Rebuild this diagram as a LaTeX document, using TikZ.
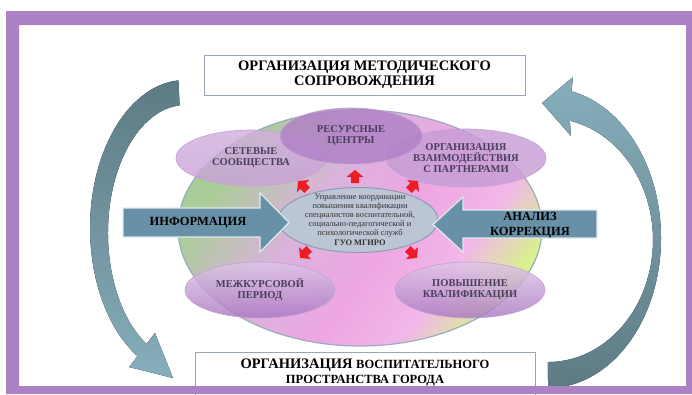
\documentclass[tikz,border=0pt]{standalone}
\usepackage{fontspec}
\setmainfont{Liberation Serif}
\usetikzlibrary{positioning,shapes.geometric}
\definecolor{mgiFrame}{HTML}{AC82C4}
\definecolor{mgiSlateDark}{HTML}{5D7B84}
\definecolor{mgiSlateLight}{HTML}{86AEBC}
\definecolor{mgiSteel}{HTML}{6891A8}
\definecolor{mgiLilac}{HTML}{C9A2D8}
\definecolor{mgiLilacDeep}{HTML}{AA78C2}
\definecolor{mgiInk}{HTML}{4A3E5E}
\definecolor{mgiCore}{HTML}{BCC5D4}
\definecolor{mgiCoreEdge}{HTML}{8A9BB3}
\definecolor{mgiDiscGreen}{HTML}{A9CD96}
\definecolor{mgiDiscPink}{HTML}{EEA6E2}
\definecolor{mgiDiscLime}{HTML}{D8F08E}
\definecolor{mgiDiscEdge}{HTML}{98ADBD}
\definecolor{mgiRed}{HTML}{EE1C25}
\definecolor{mgiBoxEdge}{HTML}{9AA6B2}
\pgfdeclarehorizontalshading{mgidisc}{100bp}{color(0bp)=(mgiDiscGreen); color(27bp)=(mgiDiscGreen); color(42bp)=(mgiDiscPink!60!mgiCore); color(55bp)=(mgiDiscPink); color(66bp)=(mgiDiscPink!80!white); color(75bp)=(mgiDiscLime); color(100bp)=(mgiDiscLime)}
\tikzset{
  mgi frame/.style={fill=mgiFrame, even odd rule},
  mgi box/.style={draw=mgiBoxEdge, fill=white, line width=0.8pt},
  mgi title/.style={font=\bfseries\fontsize{14.5}{15}\selectfont, align=center, text=black},
  mgi disc/.style={ellipse, draw=mgiDiscEdge, line width=1.2pt, shading=mgidisc, shading angle=-35},
  mgi petal/.style={ellipse, draw=mgiLilacDeep!70, line width=0.6pt, fill opacity=0.82, text opacity=1, inner sep=0pt,
    font=\bfseries\fontsize{10.5}{11.2}\selectfont, text=mgiInk, align=center},
  mgi core/.style={ellipse, draw=mgiCoreEdge, fill=mgiCore, line width=1pt, minimum width=160, minimum height=65},
  mgi core label/.style={font=\fontsize{8.4}{8.9}\selectfont, align=center, text=black!80},
  mgi block/.style={fill=mgiSteel, draw=white!80!mgiSteel, line width=1.2pt},
  mgi block label/.style={font=\bfseries\fontsize{12.5}{15}\selectfont, align=center, text=black},
  mgi pointer/.style={fill=mgiRed},
}

\begin{document}
\begin{tikzpicture}[x=1pt, y=-1pt]
  \useasboundingbox (0,0) rectangle (692,394);
  % ----- central disc -----
  \node[mgi disc, minimum width=364, minimum height=236] (disc) at (360,228) {};
  % ----- petals -----
  \node[mgi petal, minimum width=150, minimum height=56, top color=mgiLilac!85!white, bottom color=mgiLilac] (setevye) at (251,158) {СЕТЕВЫЕ\\СООБЩЕСТВА};
  \node[mgi petal, minimum width=160, minimum height=58, fill=mgiLilac!90!mgiLilacDeep] (partnery) at (466,158) {ОРГАНИЗАЦИЯ\\ВЗАИМОДЕЙСТВИЯ\\С ПАРТНЕРАМИ};
  \node[mgi petal, minimum width=142, minimum height=56, fill=mgiLilacDeep!80!mgiLilac] (resursy) at (351,136) {РЕСУРСНЫЕ\\ЦЕНТРЫ};
  \node[mgi petal, minimum width=150, minimum height=56, top color=mgiLilac!60!white, bottom color=mgiLilacDeep] (mezhkurs) at (260,290) {МЕЖКУРСОВОЙ\\ПЕРИОД};
  \node[mgi petal, minimum width=150, minimum height=56, top color=mgiLilac!60!white, bottom color=mgiLilacDeep] (povyshenie) at (470,290) {ПОВЫШЕНИЕ\\КВАЛИФИКАЦИИ};
  % ----- core -----
  \node[mgi core] (core) at (358,220) {};
  \node[mgi core label] (coretext) at (360,220) {Управление координации\\повышения квалификации\\специалистов воспитательной,\\социально-педагогической и\\психологической служб\\[2pt]\textbf{ГУО МГИРО}};
  % red pointers round the core
  \foreach \px/\py/\ang in {355/177/90, 303/186/135, 413/186/45, 305/253/225, 412/253/-45}
    \fill[mgi pointer, shift={(\px,\py)}, rotate=\ang] (-6,-4) -- (0,-4) -- (0,-8.5) -- (7,0) -- (0,8.5) -- (0,4) -- (-6,4) -- cycle;
  % ----- block arrows -----
  \draw[mgi block] (123,208) -- (260,208) -- (260,193) -- (289,222.5) -- (260,252) -- (260,237) -- (123,237) -- cycle;
  \node[mgi block label] (info) at (198,223) {ИНФОРМАЦИЯ};
  \draw[mgi block] (597,210) -- (463,210) -- (463,197) -- (433,224.5) -- (463,252) -- (463,238) -- (597,238) -- cycle;
  \node[mgi block label] (analiz) at (530,225) {АНАЛИЗ\\КОРРЕКЦИЯ};
  % ----- big curved arrows -----
  \fill[top color=mgiSlateDark, bottom color=mgiSlateLight]
    (178.4,80.4) arc[start angle=266, end angle=120, x radius=95, y radius=148]
    -- (129,367) -- (173,378) -- (155,333) -- (146.5,343.9)
    arc[start angle=120, end angle=266, x radius=77, y radius=128] -- cycle;
  \fill[top color=mgiSlateLight, bottom color=mgiSlateDark]
    (548,388) arc[start angle=90, end angle=-78, x radius=113, y radius=150]
    -- (573,77) -- (542,103) -- (571,136) -- (569.8,120.7)
    arc[start angle=-78, end angle=90, x radius=105, y radius=122] -- cycle;
  % ----- boxes -----
  \node[mgi box, mgi title, minimum width=321, minimum height=40] (metod) at (364.5,75) {ОРГАНИЗАЦИЯ МЕТОДИЧЕСКОГО\\СОПРОВОЖДЕНИЯ};
  \node[mgi box, minimum width=340, minimum height=46] (vospit) at (365,375) {};
  \node[mgi title] (vospittext) at (365,372.5) {ОРГАНИЗАЦИЯ {\fontsize{12.5}{15}\selectfont ВОСПИТАТЕЛЬНОГО}\\{\fontsize{12.5}{15}\selectfont ПРОСТРАНСТВА ГОРОДА}};
  % ----- frame -----
  \fill[mgi frame] (6,11) rectangle (692,394) (19,25) rectangle (686,386);
\end{tikzpicture}
\end{document}
